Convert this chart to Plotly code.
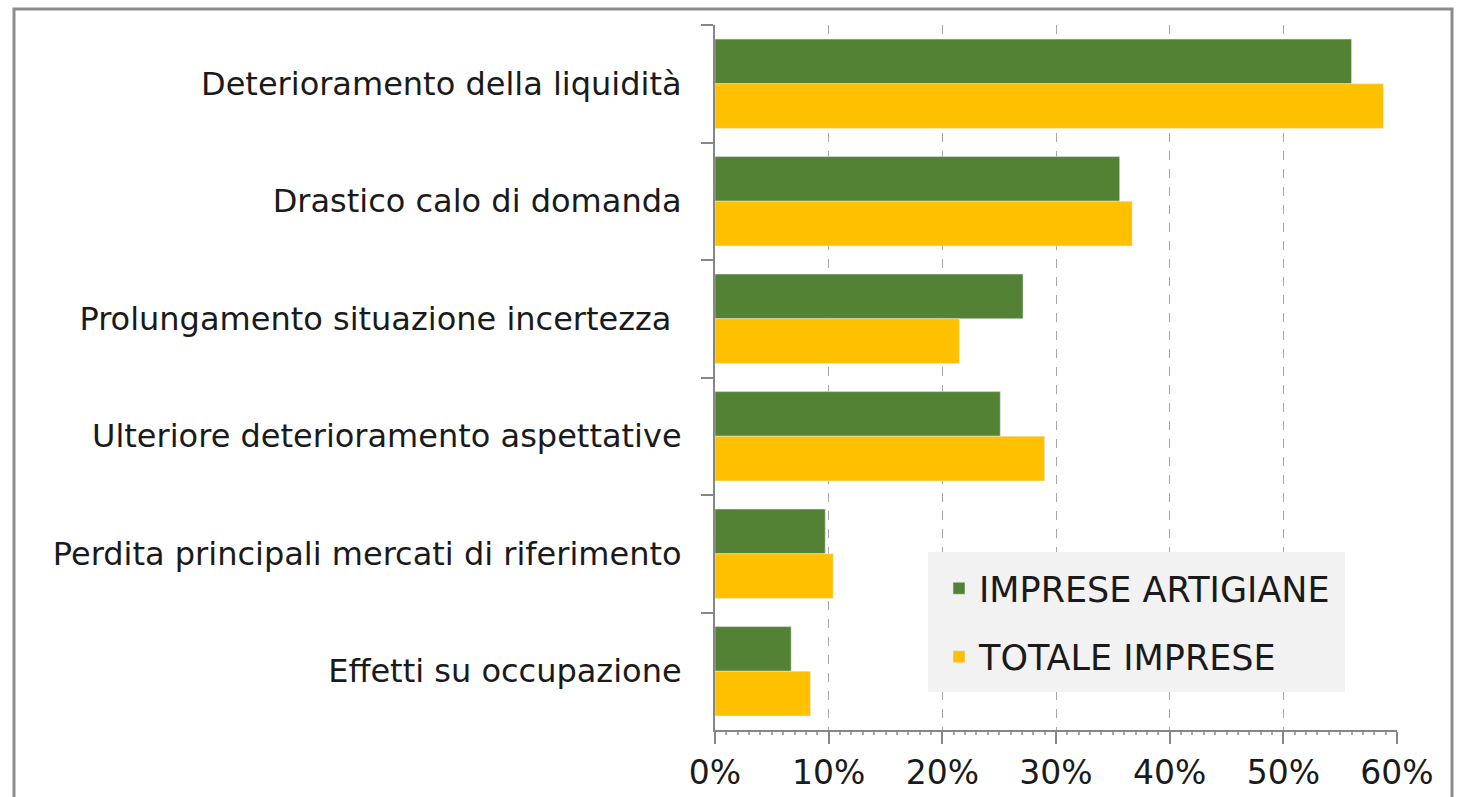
import plotly.graph_objects as go

categories = [
    "Deterioramento della liquidità",
    "Drastico calo di domanda",
    "Prolungamento situazione incertezza ",
    "Ulteriore deterioramento aspettative",
    "Perdita principali mercati di riferimento",
    "Effetti su occupazione",
]
artigiane = [56.0, 35.6, 27.1, 25.1, 9.7, 6.7]
totale = [58.8, 36.7, 21.5, 29.0, 10.4, 8.4]
tick_vals = [0, 10, 20, 30, 40, 50, 60]
tick_text = ["0%", "10%", "20%", "30%", "40%", "50%", "60%"]

W, H = 1460, 797
L, R, T, B = 715, 63, 25, 67
pw, ph = W - L - R, H - T - B

FONT = "DejaVu Sans"
TXT = "#1a1a1a"

fig = go.Figure()
fig.add_trace(go.Bar(y=categories, x=artigiane, orientation="h",
                     name="IMPRESE ARTIGIANE", marker_color="#548235",
                     legendgroup="a"))
fig.add_trace(go.Bar(y=categories, x=totale, orientation="h",
                     name="TOTALE IMPRESE", marker_color="#FFC000",
                     legendgroup="b"))

def px_x(x):
    return (x - L) / pw

def px_y(y):
    return (H - B - y) / ph

fig.update_layout(
    width=W, height=H,
    margin=dict(l=L, r=R, t=T, b=B, autoexpand=False),
    paper_bgcolor="white", plot_bgcolor="white",
    barmode="group", bargap=0.24, bargroupgap=0,
    font=dict(family=FONT, size=32, color=TXT),
    showlegend=True,
    legend=dict(
        x=px_x(939), y=px_y(559), xanchor="left", yanchor="top",
        bgcolor="rgba(0,0,0,0)", borderwidth=0,
        font=dict(family=FONT, size=35, color=TXT),
        tracegroupgap=20, itemwidth=30,
        traceorder="grouped",
    ),
    xaxis=dict(
        range=[0, 60], tickvals=tick_vals, ticktext=tick_text,
        showgrid=True, gridcolor="#a6a6a6", griddash="dash", gridwidth=1,
        showline=True, linecolor="#868686", linewidth=2,
        ticks="outside", ticklen=12, tickcolor="#868686", tickwidth=2,
        minor=dict(dtick=1, ticks="outside", ticklen=3, tickcolor="#a6a6a6", showgrid=False),
        zeroline=False, fixedrange=True, automargin=False,
        ticklabelstandoff=0,
        tickfont=dict(family=FONT, size=33, color=TXT),
    ),
    yaxis=dict(
        autorange="reversed", tickson="boundaries",
        showline=True, linecolor="#868686", linewidth=2,
        ticks="outside", ticklen=12, tickcolor="#868686", tickwidth=2,
        showgrid=False, fixedrange=True, automargin=False,
        ticklabelstandoff=25,
        tickfont=dict(family=FONT, size=32, color=TXT),
    ),
    shapes=[
        dict(
            type="rect", xref="paper", yref="paper",
            x0=px_x(14), x1=px_x(1452), y0=px_y(830), y1=px_y(9),
            line=dict(color="#8c8c8c", width=3), fillcolor="rgba(0,0,0,0)",
            layer="below",
        ),
        dict(
            type="rect", xref="paper", yref="paper",
            x0=px_x(928), x1=px_x(1345), y0=px_y(692), y1=px_y(552),
            line=dict(width=0), fillcolor="#F2F2F2",
            layer="above",
        ),
    ],
)

fig.write_html(
    "out.html",
    config={"displayModeBar": False},
    post_script="document.body.style.margin='0';document.body.style.padding='0';document.body.style.overflow='hidden';",
)
